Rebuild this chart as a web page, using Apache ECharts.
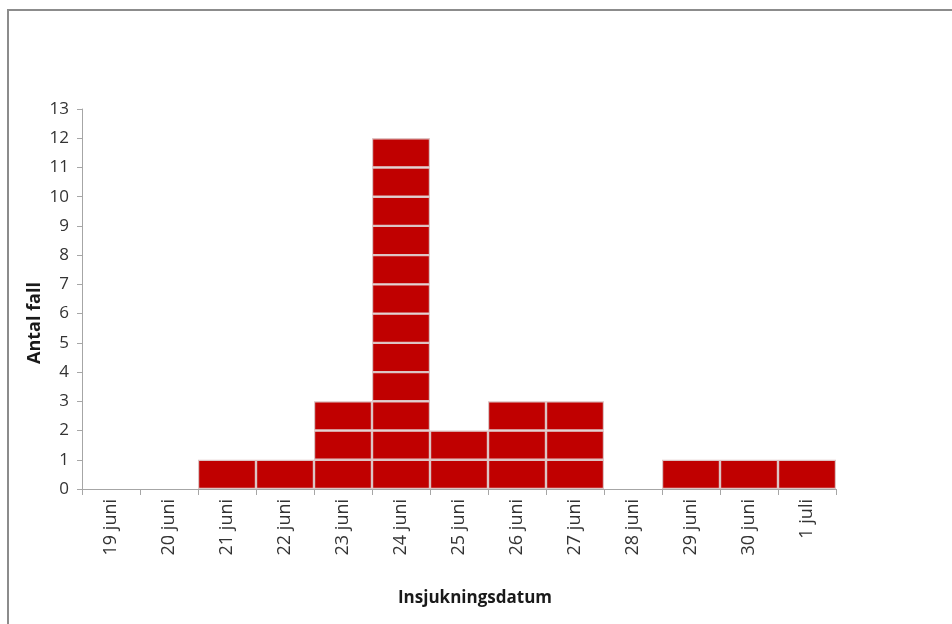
<!DOCTYPE html>
<html>
<head>
<meta charset="utf-8">
<script src="https://cdn.jsdelivr.net/npm/echarts@6/dist/echarts.min.js"></script>
<style>
  html, body { margin: 0; padding: 0; background: #fff; }
  #chart { width: 952px; height: 624px; }
</style>
</head>
<body>
<div id="chart"></div>
<script>
// Insjukningsdatum per fall (epidemikurva)
const categories = ['19 juni', '20 juni', '21 juni', '22 juni', '23 juni', '24 juni', '25 juni',
                    '26 juni', '27 juni', '28 juni', '29 juni', '30 juni', '1 juli'];
const cases = [0, 0, 1, 1, 3, 12, 2, 3, 3, 0, 1, 1, 1];
const yTicks = [0, 1, 2, 3, 4, 5, 6, 7, 8, 9, 10, 11, 12, 13];
const yTitle = 'Antal fall';
const xTitle = 'Insjukningsdatum';

const FONT = '"Open Sans", "Noto Sans", sans-serif';
const maxCases = Math.max(...cases);

// One stacked layer per case so every fall is drawn as its own box
const series = [];
for (let k = 0; k < maxCases; k++) {
  series.push({
    type: 'bar',
    stack: 'fall',
    barCategoryGap: '0%',
    silent: true,
    data: cases.map(c => (c > k ? 1 : '-')),
    itemStyle: { color: '#c00000', borderColor: '#dcc4c4', borderWidth: 1.2 }
  });
}

const chart = echarts.init(document.getElementById('chart'), null, { renderer: 'canvas' });
chart.setOption({
  animation: false,
  backgroundColor: '#ffffff',
  grid: { left: 82, right: 116, top: 109, bottom: 135, containLabel: false },
  xAxis: {
    type: 'category',
    data: categories,
    axisLine: { lineStyle: { color: '#a6a6a6', width: 1 } },
    axisTick: { show: true, length: 6, lineStyle: { color: '#a6a6a6' } },
    axisLabel: { rotate: 90, margin: 10, color: '#333333', fontSize: 18, fontFamily: FONT }
  },
  yAxis: {
    type: 'value',
    min: yTicks[0],
    max: yTicks[yTicks.length - 1],
    interval: 1,
    splitLine: { show: false },
    axisLine: { show: true, lineStyle: { color: '#a6a6a6', width: 1 } },
    axisTick: { show: true, length: 5, lineStyle: { color: '#a6a6a6' } },
    axisLabel: { margin: 13, color: '#333333', fontSize: 17, fontFamily: FONT }
  },
  graphic: [
    {
      type: 'rect',
      shape: { x: 8, y: 10, width: 1000, height: 700 },
      style: { fill: 'none', stroke: '#8c8c8c', lineWidth: 2 },
      silent: true
    },
    {
      type: 'text',
      x: 35, y: 323, rotation: Math.PI / 2,
      style: { text: yTitle, fill: '#1a1a1a', font: 'bold 18px ' + FONT, align: 'center', verticalAlign: 'middle' }
    },
    {
      type: 'text',
      x: 475, y: 598,
      style: { text: xTitle, fill: '#1a1a1a', font: 'bold 17px ' + FONT, align: 'center', verticalAlign: 'middle' }
    }
  ],
  series: series
});
</script>
</body>
</html>
